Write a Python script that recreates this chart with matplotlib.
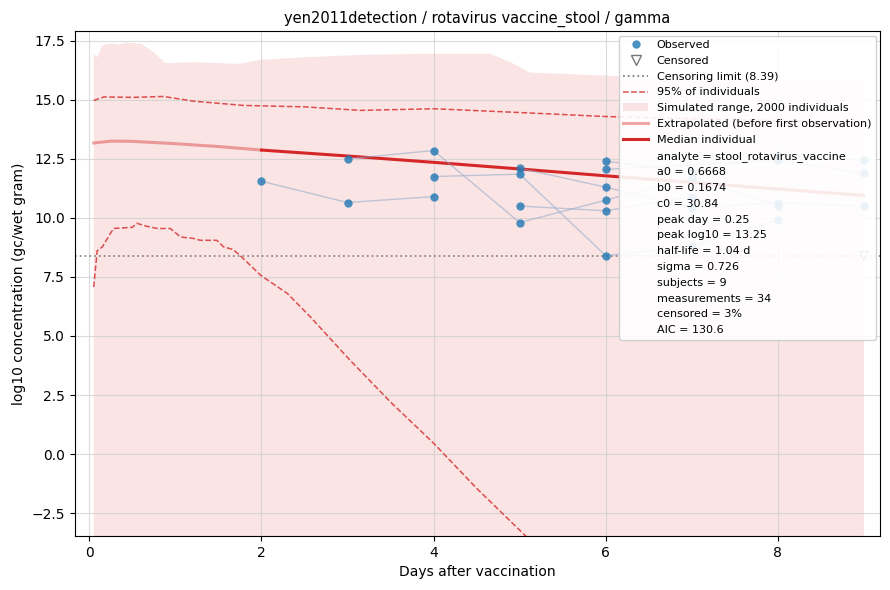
import matplotlib
matplotlib.use("Agg")
import matplotlib.pyplot as plt
from matplotlib.lines import Line2D
from matplotlib.patches import Patch
import numpy as np

# ---- data ----
# individual subjects: (days, log10 values)
subj_days = [
    [2, 3, 4],
    [3, 4, 5, 6, 7, 8],
    [4, 5, 6, 7, 8],
    [5, 6, 7, 8, 9],
    [5, 6, 7],
    [6, 7, 8, 9],
    [6, 8, 9],
]
subj_vals = [
    [11.55, 10.65, 10.90],
    [12.50, 12.85, 9.80, 10.75, 11.70, 10.50],
    [11.75, 11.85, 8.40, 8.80, 9.90],
    [12.10, 11.30, 10.40, 10.65, 10.49],
    [10.50, 10.30, 10.90],
    [12.40, 11.95, 12.65, 12.43],
    [12.05, 12.45, 11.88],
]
cens_days = [9]
cens_vals = [8.39]
cens_limit = 8.39

# median individual curve
med_t = [0.05, 0.25, 0.5, 1.0, 1.5, 2.0, 3.0, 4.0, 5.0, 6.0, 7.0, 8.0, 9.0]
med_y = [13.17, 13.25, 13.24, 13.14, 13.02, 12.87, 12.62, 12.35, 12.07, 11.78, 11.50, 11.22, 10.95]
first_obs = 2.0

# 95% of individuals (upper / lower)
up_t = [0.05, 0.17, 0.5, 0.86, 1.21, 1.79, 2.5, 3.15, 4.0, 5.0, 6.0, 7.0, 8.0, 9.0]
up_y = [14.97, 15.12, 15.10, 15.14, 14.94, 14.76, 14.70, 14.55, 14.62, 14.46, 14.29, 14.20, 14.12, 14.04]
lo_t = [0.05, 0.09, 0.15, 0.28, 0.50, 0.55, 0.67, 0.79, 0.94, 1.06, 1.21, 1.29, 1.48, 1.56,
        1.67, 1.75, 1.99, 2.30, 2.57, 3.03, 3.50, 4.00, 4.50, 5.07, 5.30]
lo_y = [7.07, 8.60, 8.77, 9.55, 9.60, 9.77, 9.64, 9.55, 9.55, 9.19, 9.13, 9.05, 9.05, 8.77,
        8.66, 8.41, 7.57, 6.80, 5.80, 3.97, 2.20, 0.46, -1.45, -3.47, -4.40]

# simulated range (upper envelope)
rng_t = [0.05, 0.09, 0.15, 0.24, 0.34, 0.44, 0.60, 0.75, 0.88, 1.21, 1.75, 1.99, 2.5, 3.15,
         3.96, 4.66, 4.89, 5.12, 6.17, 8.03, 9.0]
rng_hi = [16.94, 16.80, 17.29, 17.39, 17.34, 17.42, 17.37, 17.01, 16.55, 16.59, 16.52, 16.69,
          16.80, 16.90, 16.95, 16.95, 16.60, 16.15, 16.00, 15.85, 15.80]
rng_lo = -30.0

params = [
    "analyte = stool_rotavirus_vaccine",
    "a0 = 0.6668",
    "b0 = 0.1674",
    "c0 = 30.84",
    "peak day = 0.25",
    "peak log10 = 13.25",
    "half-life = 1.04 d",
    "sigma = 0.726",
    "subjects = 9",
    "measurements = 34",
    "censored = 3%",
    "AIC = 130.6",
]

# ---- plot ----
fig, ax = plt.subplots(figsize=(8.9, 5.9), dpi=100)
fig.subplots_adjust(left=0.084, right=0.989, top=0.947, bottom=0.0915)

red = "#d62728"
ax.fill_between(rng_t, [rng_lo] * len(rng_t), rng_hi, color=red, alpha=0.12, linewidth=0)
ax.plot(up_t, up_y, color=red, ls="--", lw=1.1, alpha=0.8)
ax.plot(lo_t, lo_y, color=red, ls="--", lw=1.1, alpha=0.8)

med_t_a = np.array(med_t)
med_y_a = np.array(med_y)
pre = med_t_a <= first_obs
post = med_t_a >= first_obs
ax.plot(med_t_a[pre], med_y_a[pre], color=red, lw=2.2, alpha=0.4)
ax.plot(med_t_a[post], med_y_a[post], color=red, lw=2.2)

for d, v in zip(subj_days, subj_vals):
    ax.plot(d, v, color="#8fa8c8", lw=1.0, alpha=0.55, zorder=3)
all_d = [x for d in subj_days for x in d]
all_v = [x for v in subj_vals for x in v]
ax.scatter(all_d, all_v, s=36, color="#1f77b4", alpha=0.8, zorder=4, linewidths=0)
ax.scatter(cens_days, cens_vals, s=40, marker="v", facecolors="none",
           edgecolors="#777777", linewidths=0.9, zorder=4)
ax.axhline(cens_limit, color="gray", ls=":", lw=1.3, alpha=0.9)

ax.set_xlim(-0.17, 9.19)
ax.set_ylim(-3.47, 17.9)
ax.set_xticks([0, 2, 4, 6, 8])
ax.set_yticks(np.arange(-2.5, 17.6, 2.5))
ax.grid(True, color="#cccccc", alpha=0.7, lw=0.8)

ax.set_title("yen2011detection / rotavirus vaccine_stool / gamma", fontsize=10.5)
ax.set_xlabel("Days after vaccination", fontsize=10)
ax.set_ylabel("log10 concentration (gc/wet gram)", fontsize=10)

handles = [
    Line2D([], [], marker="o", ls="none", color="#1f77b4", alpha=0.8, markersize=6,
           markeredgewidth=0),
    Line2D([], [], marker="v", ls="none", markerfacecolor="none", markeredgecolor="#777777",
           markersize=6.5),
    Line2D([], [], color="gray", ls=":", lw=1.3),
    Line2D([], [], color=red, ls="--", lw=1.1, alpha=0.8),
    Patch(facecolor=red, alpha=0.12, linewidth=0),
    Line2D([], [], color=red, lw=2.2, alpha=0.4),
    Line2D([], [], color=red, lw=2.2),
]
labels = [
    "Observed",
    "Censored",
    "Censoring limit (%.2f)" % cens_limit,
    "95% of individuals",
    "Simulated range, 2000 individuals",
    "Extrapolated (before first observation)",
    "Median individual",
]
for p in params:
    handles.append(Line2D([], [], ls="none"))
    labels.append(p)

ax.legend(handles, labels, loc="upper right", fontsize=8, framealpha=0.9,
          labelspacing=0.52, handlelength=2.2, borderaxespad=0.4)

fig.savefig("out.png", dpi=100)
